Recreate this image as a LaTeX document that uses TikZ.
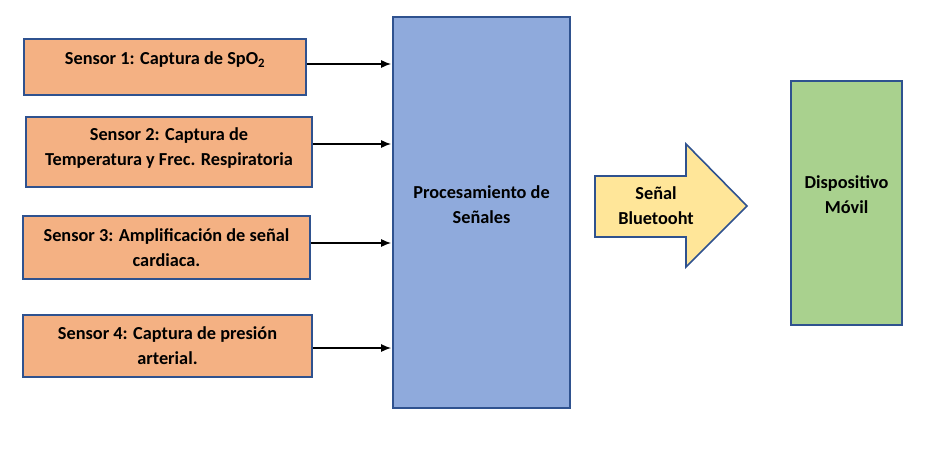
\documentclass[tikz,border=0pt]{standalone}
\usepackage{fontspec}
\setmainfont{Carlito}
\usetikzlibrary{arrows.meta}
\begin{document}
\begin{tikzpicture}[x=1pt,y=-1pt,
  box/.style={draw=edge, line width=1.6pt, align=center, inner sep=0pt, font=\bfseries\fontsize{18.3}{25}\selectfont},
  sensor/.style={box, fill=sensorfill},
  lift/.style={execute at end node={\rule[-#1]{0pt}{#1}}},
  feed/.style={-{Latex[length=10pt,width=8pt]}, line width=1.5pt, shorten >=1pt}]
\definecolor{edge}{HTML}{2F528F}
\definecolor{sensorfill}{HTML}{F4B183}
\definecolor{procfill}{HTML}{8FAADC}
\definecolor{btfill}{HTML}{FFE699}
\definecolor{devfill}{HTML}{A9D18E}
\useasboundingbox (0,0) rectangle (929,463);
\node[sensor, lift=18pt, minimum width=282pt, minimum height=56pt] (s1) at (165,67) {Sensor 1: Captura de SpO\textsubscript{2}};
\node[sensor, lift=11pt, minimum width=286pt, minimum height=70pt] (s2) at (169,152) {Sensor 2: Captura de\\Temperatura y Frec. Respiratoria};
\node[sensor, minimum width=287pt, minimum height=63pt] (s3) at (166.5,247.5) {Sensor 3: Amplificación de señal\\cardiaca.};
\node[sensor, minimum width=289pt, minimum height=62pt] (s4) at (167.5,346) {Sensor 4: Captura de presión\\arterial.};
\node[box, lift=15pt, fill=procfill, minimum width=177pt, minimum height=391pt] (proc) at (481.5,212.5) {Procesamiento de\\Señales};
\node[box, lift=16pt, fill=devfill, minimum width=111pt, minimum height=244pt] (dev) at (846.5,203) {Dispositivo\\Móvil};
\draw[feed] ([yshift=3pt]s1.east) -- ([yshift=3pt]s1.east -| proc.west);
\draw[feed] ([yshift=8pt]s2.east) -- ([yshift=8pt]s2.east -| proc.west);
\draw[feed] ([yshift=4.5pt]s3.east) -- ([yshift=4.5pt]s3.east -| proc.west);
\draw[feed] ([yshift=-2pt]s4.east) -- ([yshift=-2pt]s4.east -| proc.west);
\draw[draw=edge, line width=1.6pt, fill=btfill, line join=miter] (595,176) -- (686,176) -- (686,144) -- (747,206) -- (686,267) -- (686,237) -- (595,237) -- cycle;
\node[align=center, font=\bfseries\fontsize{18.3}{25}\selectfont] (bt) at (656,206) {Señal\\Bluetooht};
\end{tikzpicture}
\end{document}
